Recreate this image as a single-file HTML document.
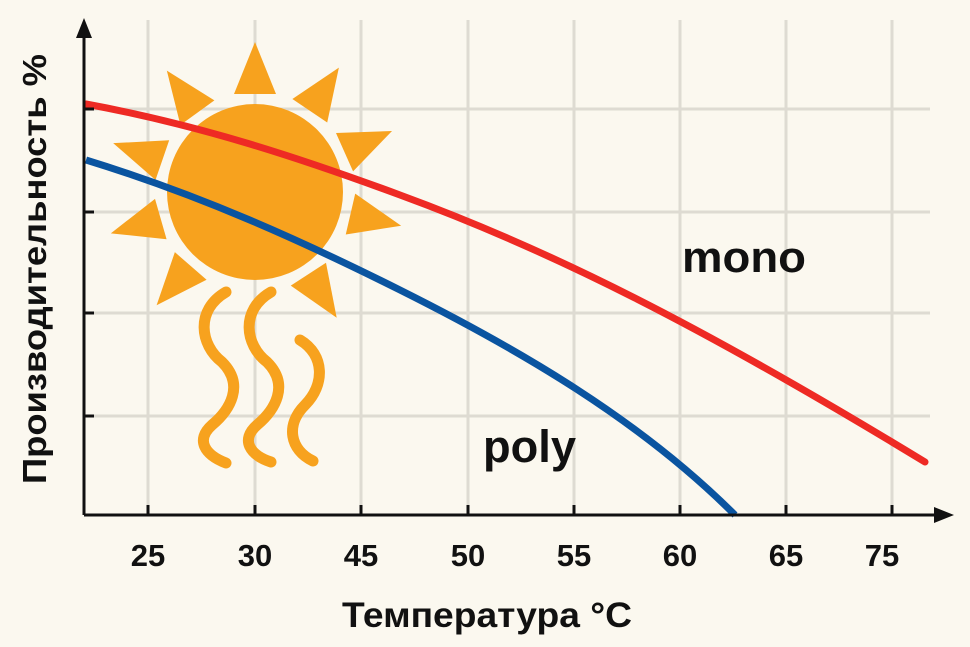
<!DOCTYPE html>
<html><head><meta charset="utf-8"><style>
html,body{margin:0;padding:0;background:#fbf8ef;}
svg{display:block;}
text{font-family:"Liberation Sans",sans-serif;font-weight:bold;fill:#111;}
</style></head><body>
<svg width="970" height="647" viewBox="0 0 970 647">
<rect width="970" height="647" fill="#fbf8ef"/>
<g stroke="#dedbd2" stroke-width="3">
<line x1="148" y1="20" x2="148" y2="515"/><line x1="255" y1="20" x2="255" y2="515"/>
<line x1="361" y1="20" x2="361" y2="515"/><line x1="468" y1="20" x2="468" y2="515"/>
<line x1="574" y1="20" x2="574" y2="515"/><line x1="680" y1="20" x2="680" y2="515"/>
<line x1="786" y1="20" x2="786" y2="515"/><line x1="892" y1="20" x2="892" y2="515"/>
<line x1="84" y1="109" x2="930" y2="109"/><line x1="84" y1="212" x2="930" y2="212"/>
<line x1="84" y1="313" x2="930" y2="313"/><line x1="84" y1="416" x2="930" y2="416"/>
</g>
<g fill="#f7a21e">
<circle cx="255" cy="192" r="88"/>
<g transform="translate(255,192)">
<polygon id="r" points="-21,-98 21,-98 0,-150"/>
<use href="#r" transform="rotate(34)"/><use href="#r" transform="rotate(66)"/>
<use href="#r" transform="rotate(103)"/><use href="#r" transform="rotate(147)"/>
<use href="#r" transform="rotate(221)"/><use href="#r" transform="rotate(254)"/>
<use href="#r" transform="rotate(289)"/><use href="#r" transform="rotate(324)"/>
</g>
</g>
<g fill="none" stroke="#f7a21e" stroke-width="11" stroke-linecap="round">
<path d="M226,292 C195,310 200,345 222,362 C245,385 230,410 212,425 C195,440 205,455 226,463"/>
<path d="M271,292 C240,310 245,345 267,362 C290,385 275,410 257,425 C240,440 250,455 271,462"/>
<path d="M300,340 C325,355 325,385 305,405 C285,425 290,450 313,461"/>
</g>
<path d="M86,104 C200,125 300,158 400,195 C550,250 700,325 925,462" fill="none" stroke="#ee2a24" stroke-width="7" stroke-linecap="round"/>
<path d="M86,160 C200,195 300,240 400,290 C520,350 640,420 735,515" fill="none" stroke="#0a54a0" stroke-width="7"/>
<g stroke="#111" stroke-width="3">
<line x1="84" y1="515" x2="84" y2="32"/><line x1="84" y1="515" x2="940" y2="515"/>
<line x1="148" y1="515" x2="148" y2="505"/><line x1="255" y1="515" x2="255" y2="505"/>
<line x1="361" y1="515" x2="361" y2="505"/><line x1="468" y1="515" x2="468" y2="505"/>
<line x1="574" y1="515" x2="574" y2="505"/><line x1="680" y1="515" x2="680" y2="505"/>
<line x1="786" y1="515" x2="786" y2="505"/><line x1="892" y1="515" x2="892" y2="505"/>
<line x1="84" y1="109" x2="94" y2="109"/><line x1="84" y1="212" x2="94" y2="212"/>
<line x1="84" y1="313" x2="94" y2="313"/><line x1="84" y1="416" x2="94" y2="416"/>
</g>
<polygon points="84,18 76,38 92,38" fill="#111"/>
<polygon points="954,515 934,507 934,523" fill="#111"/>
<g font-size="31" text-anchor="middle">
<text x="148" y="566">25</text><text x="255" y="566">30</text><text x="361" y="566">45</text>
<text x="468" y="566">50</text><text x="574" y="566">55</text><text x="680" y="566">60</text>
<text x="786" y="566">65</text><text x="882" y="566">75</text>
</g>
<text x="342" y="627" font-size="35" textLength="290" lengthAdjust="spacingAndGlyphs">Температура °C</text>
<text transform="translate(46,484) rotate(-90)" font-size="33" textLength="430" lengthAdjust="spacingAndGlyphs">Производительность  %</text>
<text x="682" y="272" font-size="44" textLength="124" lengthAdjust="spacingAndGlyphs">mono</text>
<text x="483" y="462" font-size="45" textLength="93" lengthAdjust="spacingAndGlyphs">poly</text>
</svg>
</body></html>
